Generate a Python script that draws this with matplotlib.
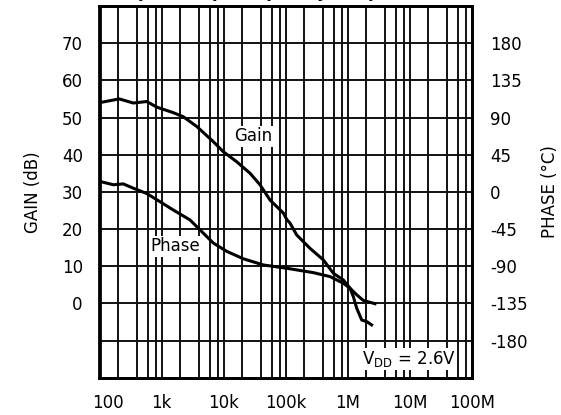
import matplotlib
matplotlib.use("Agg")
import matplotlib.pyplot as plt
import matplotlib.transforms as mtransforms
import numpy as np

# ---- data ----
gain_freq = [100, 208, 351, 577, 836, 1549, 2244, 3690, 6834, 9900, 16290, 26700,
             38700, 56100, 91900, 105000, 117800, 151000, 247600, 405700, 587700,
             851000, 1.09e6, 1.236e6, 1.40e6, 1.69e6, 2.03e6, 2.44e6]
gain_db = [54.0, 55.0, 53.9, 54.3, 52.8, 51.3, 50.2, 47.6, 43.5, 40.8, 38.1, 35.0,
           31.9, 27.8, 24.3, 22.5, 21.6, 18.4, 14.8, 11.7, 8.1,
           6.3, 4.1, 1.8, -1.3, -4.5, -4.9, -5.8]

phase_freq = [100, 167, 242, 351, 577, 945, 1549, 2877, 4170, 6834, 11240, 20800,
              43700, 104000, 280000, 520000, 851000, 1.09e6, 1.40e6, 1.79e6, 2.76e6]
phase_deg = [12.7, 8.6, 9.6, 4.4, -2.0, -11.9, -22.0, -34.0, -46.0, -62.0, -72.0, -81.0,
             -88.5, -92.5, -97.8, -102.6, -110.6, -116.6, -124.6, -131.5, -135.4]

x_ticks = [1e2, 1e3, 1e4, 1e5, 1e6, 1e7, 1e8]
x_labels = ["100", "1k", "10k", "100k", "1M", "10M", "100M"]
gain_ticks = [-10, 0, 10, 20, 30, 40, 50, 60, 70]
gain_labels = ["", "0", "10", "20", "30", "40", "50", "60", "70"]
phase_ticks = [-180, -135, -90, -45, 0, 45, 90, 135, 180]
phase_labels = ["-180", "-135", "-90", "-45", "0", "45", "90", "135", "180"]

FS = 12
plt.rcParams['font.family'] = ['DejaVu Sans']

fig = plt.figure(figsize=(5.61, 4.15), dpi=100)
ax = fig.add_axes([99.5 / 561, (415 - 377.7) / 415, (471.7 - 99.5) / 561, (377.7 - 6) / 415])

ax.set_xscale('log')
ax.set_xlim(1e2, 1e8)
ax.set_ylim(-20, 80)
ax.xaxis.set_minor_locator(matplotlib.ticker.LogLocator(base=10, subs=[2, 4, 6, 8]))
ax.xaxis.set_minor_formatter(matplotlib.ticker.NullFormatter())
ax.set_xticks(x_ticks)
ax.set_xticklabels(x_labels, fontsize=FS)
ax.set_yticks(gain_ticks)
ax.set_yticklabels(gain_labels, fontsize=FS)
ax.tick_params(axis='both', which='both', length=0)
ax.tick_params(axis='x', pad=12)
ax.tick_params(axis='y', pad=12)
ax.grid(True, which='both', color='#111111', lw=1.4)
ax.set_axisbelow(True)
for s in ax.spines.values():
    s.set_linewidth(2)

# shift the "100" label right
lbl = ax.get_xticklabels()[0]
lbl.set_transform(lbl.get_transform() + mtransforms.ScaledTranslation(8 / 100, 0, fig.dpi_scale_trans))

ax.plot(gain_freq, gain_db, color='black', lw=2.2, zorder=3)

ax2 = ax.twinx()
ax2.set_ylim(-225, 225)
ax2.set_yticks(phase_ticks)
ax2.set_yticklabels(phase_labels, fontsize=FS)
ax2.tick_params(axis='y', length=0, pad=13)
ax2.plot(phase_freq, phase_deg, color='black', lw=2.2, zorder=3)
for s in ax2.spines.values():
    s.set_linewidth(2)

ax.set_ylabel("GAIN (dB)", fontsize=FS, labelpad=14)
ax2.set_ylabel("PHASE (°C)", fontsize=FS, labelpad=10)

bb = dict(facecolor='white', edgecolor='none', pad=1.0)
ax.text(29850, 44.9, "Gain", fontsize=FS, ha='center', va='center', bbox=bb, zorder=4)
ax.text(1649, 15.3, "Phase", fontsize=FS, ha='center', va='center', bbox=bb, zorder=4)
ax.text(9.77e6, -15, "V$_{\\mathregular{DD}}$ = 2.6V", fontsize=FS, ha='center', va='center',
        bbox=bb, zorder=4)

# title, mostly cut off at the top edge as in the reference
fig.text(123 / 561, 1.0 + 2.5 / 415, "Open Loop Frequency Response, V$_{\\mathregular{DD}}$ = 2.6V",
         fontsize=12, fontweight='bold', ha='left', va='baseline')

fig.savefig("out.png", dpi=100)
